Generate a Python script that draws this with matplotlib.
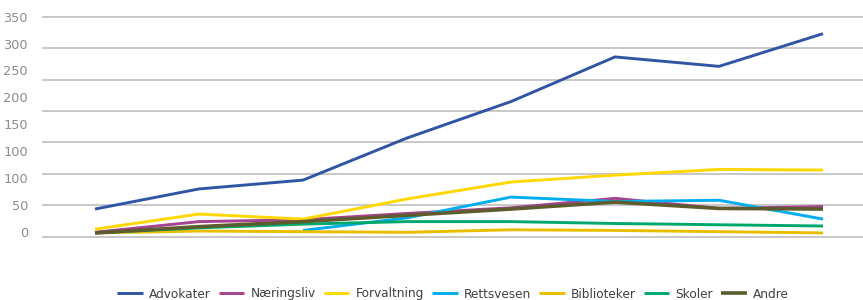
import matplotlib
matplotlib.use("Agg")
import matplotlib.pyplot as plt
import numpy as np

plt.rcParams['font.family'] = ['DejaVu Sans']

categories = [1, 2, 3, 4, 5, 6, 7, 8]
advokater = [44, 76, 90, 157, 215, 286, 271, 323]
naeringsliv = [7, 24, 27, 37, 46, 61, 45, 48]
forvaltning = [12, 36, 28, 60, 87, 98, 107, 106]
rettsvesen = [None, None, 10, 30, 63, 56, 58, 28]
biblioteker = [6, 9, 8, 7, 11, 10, 8, 6]
skoler = [6, 14, 20, 24, 24, 21, 19, 17]
andre = [6, 16, 24, 34, 44, 55, 45, 44]

series_names = ["Advokater", "Næringsliv", "Forvaltning", "Rettsvesen",
                "Biblioteker", "Skoler", "Andre"]
ytick_labels = ["0", "50", "100", "100", "150", "200", "250", "300", "350"]
grid_values = [0, 50, 100, 150, 200, 250, 300, 350]

colors = ["#2F55A4", "#A5438F", "#FFD800", "#00AEEF", "#E8BE00", "#00A86B", "#5E5C2E"]
widths = [2.1, 2.1, 2.1, 2.1, 2.1, 2.1, 2.6]

fig = plt.figure(figsize=(8.63, 3.0), dpi=100)
ax = fig.add_axes([43/863, (300-236.7)/300, 820/863, 220/300])

for v in grid_values:
    ax.axhline(v, color="#BFBFBF", lw=1.2, zorder=0, clip_on=False)

x = np.arange(len(categories))
data = [advokater, naeringsliv, forvaltning, rettsvesen, biblioteker, skoler, andre]
order = [0, 2, 3, 4, 1, 5, 6]
handles = [None] * len(data)
for i in order:
    y = np.array([np.nan if v is None else v for v in data[i]], dtype=float)
    ln, = ax.plot(x, y, color=colors[i], lw=widths[i], label=series_names[i],
                  solid_capstyle='butt', zorder=2 + i * 0.1)
    handles[i] = ln

ax.set_xlim(-0.5, (863 - 95) / 104)
ax.set_ylim(0, 350)
ax.set_xticks([])
ax.set_yticks(np.linspace(8, 350, len(ytick_labels)))
ax.set_yticklabels(ytick_labels, color="#8C8C8C", fontsize=9.3)
ax.tick_params(axis='y', length=0, pad=10.8)
for s in ax.spines.values():
    s.set_visible(False)

fig.legend(handles, series_names, loc='center', ncol=7,
           bbox_to_anchor=((43 + 863) / 2 / 863, 0.02), frameon=False,
           fontsize=8.7, handlelength=2.1, handletextpad=0.5,
           columnspacing=0.7, labelcolor="#404040")

fig.savefig("out.png", dpi=100)
